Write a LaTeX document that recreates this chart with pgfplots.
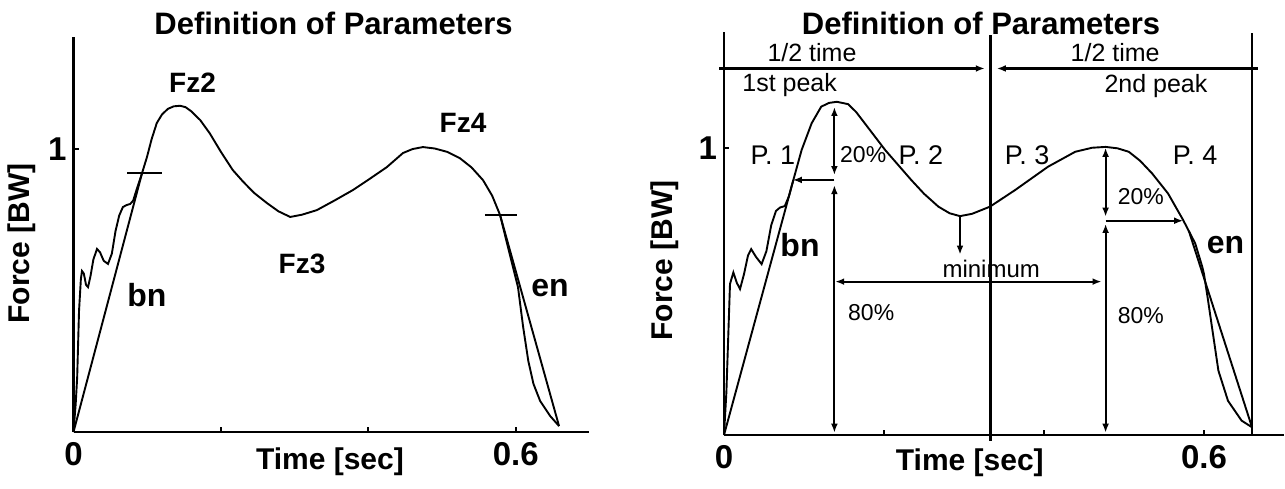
\documentclass[border=0pt]{standalone}
\usepackage{pgfplots}
\pgfplotsset{compat=1.18}
\usetikzlibrary{arrows.meta}
\usepackage{fontspec}
\setmainfont{Liberation Sans}

% force curves
\pgfplotstableread{
x y
0 0
0.003 0.10
0.005 0.194
0.0075 0.428
0.0100 0.540
0.0115 0.569
0.0140 0.560
0.0170 0.520
0.0197 0.512
0.0230 0.550
0.0270 0.610
0.0319 0.647
0.0360 0.635
0.0410 0.605
0.0468 0.594
0.0520 0.630
0.0570 0.710
0.0620 0.765
0.0670 0.795
0.0720 0.802
0.0770 0.806
0.0810 0.818
0.0860 0.860
0.0930 0.915
0.0997 0.972
0.1060 1.035
0.1130 1.092
0.1200 1.122
0.1280 1.142
0.1360 1.151
0.1445 1.153
0.1520 1.148
0.1600 1.133
0.1720 1.102
0.1850 1.055
0.2000 0.990
0.2160 0.926
0.2300 0.885
0.2450 0.845
0.2625 0.809
0.2780 0.780
0.2940 0.760
0.3100 0.768
0.3300 0.784
0.3540 0.818
0.3790 0.855
0.4020 0.895
0.4250 0.936
0.4470 0.986
0.4600 1.000
0.4740 1.007
0.4900 1.002
0.5070 0.990
0.5240 0.968
0.5400 0.935
0.5556 0.890
0.5680 0.835
0.5787 0.767
0.5880 0.668
0.5960 0.585
0.6030 0.512
0.6100 0.371
0.6170 0.251
0.6240 0.170
0.6330 0.110
0.6465 0.057
0.6587 0.021
}\leftcurve

\pgfplotstableread{
x y
0 0
0.003 0.15
0.0075 0.526
0.0117 0.566
0.0160 0.530
0.0200 0.508
0.0250 0.560
0.0300 0.625
0.0340 0.647
0.0400 0.620
0.0470 0.595
0.0530 0.640
0.0590 0.730
0.0650 0.780
0.0700 0.792
0.0760 0.797
0.0810 0.830
0.0867 0.888
0.0970 0.992
0.1095 1.085
0.1215 1.143
0.1310 1.156
0.1410 1.160
0.1550 1.152
0.1650 1.125
0.1760 1.085
0.2015 0.992
0.2340 0.888
0.2500 0.840
0.2680 0.795
0.2820 0.772
0.2950 0.762
0.3100 0.770
0.3325 0.795
0.3640 0.853
0.4050 0.934
0.4390 0.986
0.4600 1.000
0.4770 1.003
0.4920 0.998
0.5060 0.986
0.5200 0.955
0.5350 0.911
0.5550 0.841
0.5740 0.748
0.5890 0.667
0.5980 0.584
0.6000 0.560
0.6050 0.470
0.6100 0.375
0.6180 0.224
0.6300 0.119
0.6470 0.050
0.6600 0.027
}\rightcurve

\pgfplotsset{
  panel/.style={
    scale only axis, axis lines*=left,
    xmin=0, xmax=0.7, ymin=0,
    xtick={0,0.2,0.4,0.6}, xticklabels={0,,,0.6},
    ytick={1}, yticklabels={1},
    tick align=inside, major tick length=2.5pt,
    axis line style={line width=1.1pt},
    tick style={line width=1pt, black},
    ticklabel style={font=\fontsize{16.5}{18}\selectfont\bfseries},
    xticklabel style={yshift=-1.5pt},
    label style={font=\fontsize{15}{18}\selectfont\bfseries},
    every axis title shift=0pt,
    title style={font=\fontsize{15.5}{18}\selectfont\bfseries, anchor=center},
    xlabel={Time [sec]}, ylabel={Force [BW]},
    title={Definition of Parameters},
    clip=false,
    cycle list={{black, mark=none}},
    every axis plot/.append style={line width=0.95pt},
  },
  arr/.style={black, -{Latex[length=4.5pt,width=3.4pt]}},
  darr/.style={black,
    {Latex[length=4.5pt,width=3.4pt]}-{Latex[length=4.5pt,width=3.4pt]}},
}

\newcommand{\bfs}[1]{\fontsize{#1}{#1}\selectfont\bfseries}
\newcommand{\rgs}[1]{\fontsize{#1}{#1}\selectfont}

\begin{document}
\begin{tikzpicture}
\useasboundingbox (-36.75pt,-28pt) rectangle (605.75pt,216pt);

% left panel
\begin{axis}[panel,
  width=258pt, height=197.5pt, ymax=1.396,
  xlabel style={at={(axis description cs:0.497,-0.076)}, anchor=center},
  ylabel style={at={(axis description cs:-0.0998,0.477)}, anchor=center},
  title style={at={(axis description cs:0.504,1.035)}},
]
\addplot table {\leftcurve};
\addplot coordinates {(0,0) (0.093,0.915)};
\addplot coordinates {(0.5787,0.767) (0.6587,0.021)};
\addplot coordinates {(0.0726,0.915) (0.120,0.915)};
\addplot coordinates {(0.558,0.767) (0.6015,0.767)};
\node[font=\bfs{14}] at (axis cs:0.1615,1.235) {Fz2};
\node[font=\bfs{14}] at (axis cs:0.31,0.595) {Fz3};
\node[font=\bfs{14}] at (axis cs:0.5285,1.092) {Fz4};
\node[font=\bfs{16}] at (axis cs:0.0997,0.484) {bn};
\node[font=\bfs{16}] at (axis cs:0.6465,0.509) {en};
\end{axis}

% right panel
\begin{axis}[panel, at={(325.25pt,-1.5pt)},
  width=280pt, height=201.5pt, ymax=1.403,
  xlabel style={at={(axis description cs:0.439,-0.0695)}, anchor=center},
  ylabel style={at={(axis description cs:-0.105,0.433)}, anchor=center},
  title style={at={(axis description cs:0.459,1.022)}},
]
\addplot table {\rightcurve};
\addplot coordinates {(0,0) (0.0867,0.888)};
\addplot coordinates {(0.581,0.711) (0.660,0.027)};
% half-time frame
\addplot[black, line width=1.5pt] coordinates {(0.3325,-0.02) (0.3325,1.392)};
\addplot[black, line width=1.1pt] coordinates {(0.660,0) (0.660,1.399)};
\addplot[arr, line width=1.2pt] coordinates {(-0.006,1.276) (0.326,1.276)};
\addplot[arr, line width=1.2pt] coordinates {(0.667,1.276) (0.341,1.276)};
% first peak
\addplot[darr] coordinates {(0.138,1.142) (0.138,0.905)};
\addplot[darr] coordinates {(0.138,0.870) (0.138,0.008)};
\addplot[arr] coordinates {(0.138,0.888) (0.086,0.888)};
% second peak
\addplot[darr] coordinates {(0.477,1.000) (0.477,0.760)};
\addplot[darr] coordinates {(0.477,0.735) (0.477,0.008)};
\addplot[arr] coordinates {(0.477,0.746) (0.574,0.746)};
% minimum
\addplot[arr] coordinates {(0.295,0.760) (0.295,0.628)};
\addplot[darr] coordinates {(0.139,0.534) (0.472,0.534)};
\node[font=\rgs{12.5}] at (axis cs:0.110,1.333) {1/2 time};
\node[font=\rgs{12.5}] at (axis cs:0.489,1.333) {1/2 time};
\node[font=\rgs{12.5}] at (axis cs:0.082,1.218) {1st peak};
\node[font=\rgs{12.5}] at (axis cs:0.540,1.215) {2nd peak};
\node[font=\rgs{13.5}] at (axis cs:0.061,0.975) {P. 1};
\node[font=\rgs{13.5}] at (axis cs:0.246,0.975) {P. 2};
\node[font=\rgs{13.5}] at (axis cs:0.379,0.975) {P. 3};
\node[font=\rgs{13.5}] at (axis cs:0.589,0.975) {P. 4};
\node[font=\rgs{11.5}] at (axis cs:0.174,0.975) {20\%};
\node[font=\rgs{11.5}] at (axis cs:0.521,0.829) {20\%};
\node[font=\rgs{11.5}] at (axis cs:0.184,0.427) {80\%};
\node[font=\rgs{11.5}] at (axis cs:0.521,0.416) {80\%};
\node[font=\rgs{12}] at (axis cs:0.334,0.578) {minimum};
\node[font=\bfs{16}] at (axis cs:0.095,0.661) {bn};
\node[font=\bfs{16}] at (axis cs:0.627,0.661) {en};
\end{axis}
\end{tikzpicture}
\end{document}
